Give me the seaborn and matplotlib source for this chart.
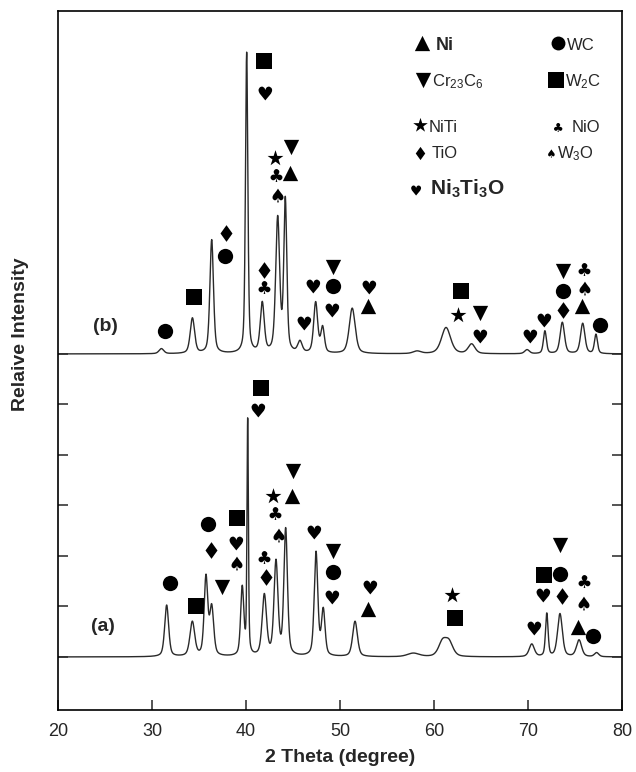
import numpy as np
import pandas as pd
import matplotlib
matplotlib.use("Agg")
import matplotlib.pyplot as plt
from matplotlib.path import Path
from matplotlib.textpath import TextPath
from matplotlib.font_manager import FontProperties
import seaborn as sns

# ── peak tables (2theta, height in tick units, fwhm) ──
PEAK_POS_A = [31.56, 34.29, 35.74, 36.35, 39.60, 40.18, 41.95, 43.19, 44.22,
              47.45, 48.22, 51.60, 57.80, 60.90, 61.60, 70.40, 72.00, 73.40,
              75.43, 77.30]
PEAK_H_A = [1.02, 0.68, 1.55, 0.95, 1.35, 4.65, 1.20, 1.85, 2.50,
            2.05, 0.90, 0.70, 0.07, 0.28, 0.27, 0.25, 0.85, 0.85,
            0.33, 0.08]
PEAK_W_A = [0.50, 0.60, 0.45, 0.50, 0.40, 0.18, 0.55, 0.50, 0.45,
            0.45, 0.45, 0.60, 1.50, 1.00, 1.00, 0.65, 0.32, 0.60,
            0.65, 0.55]

PEAK_POS_B = [31.00, 34.30, 36.35, 40.07, 41.73, 43.37, 44.18, 45.74, 47.41,
              48.15, 51.30, 58.20, 61.28, 64.00, 69.90, 71.80, 73.65, 75.82,
              77.23]
PEAK_H_B = [0.10, 0.70, 2.25, 5.95, 0.98, 2.65, 3.00, 0.22, 1.00,
            0.50, 0.90, 0.05, 0.52, 0.19, 0.08, 0.45, 0.62, 0.60,
            0.38]
PEAK_W_B = [0.60, 0.55, 0.45, 0.30, 0.50, 0.50, 0.38, 0.55, 0.50,
            0.45, 0.75, 1.00, 1.15, 0.85, 0.60, 0.38, 0.55, 0.55,
            0.38]
OFFSET_B = 6.0

# ── phase markers placed above the peaks (2theta, height) ──
MARK_PHASE = (
    # pattern (a)
    ["WC", "W2C", "WC", "TiO", "Cr23C6", "W2C", "Ni3Ti3O", "W3O", "W2C",
     "Ni3Ti3O", "NiTi", "NiO", "W3O", "NiO", "TiO", "Cr23C6", "Ni",
     "Ni3Ti3O", "Cr23C6", "WC", "Ni3Ti3O", "Ni3Ti3O", "Ni", "NiTi", "W2C",
     "Ni3Ti3O", "Ni3Ti3O", "W2C", "WC", "Cr23C6", "TiO", "NiO", "W3O", "Ni",
     "WC"]
    # pattern (b)
    + ["WC", "W2C", "TiO", "WC", "W2C", "Ni3Ti3O", "NiTi", "NiO", "W3O",
       "Cr23C6", "Ni", "TiO", "NiO", "Ni3Ti3O", "Ni3Ti3O", "Cr23C6", "WC",
       "Ni3Ti3O", "Ni3Ti3O", "Ni", "W2C", "NiTi", "Cr23C6", "Ni3Ti3O",
       "Ni3Ti3O", "Ni3Ti3O", "Cr23C6", "WC", "TiO", "NiO", "W3O", "Ni", "WC"]
)
MARK_X = (
    [31.90, 34.65, 36.00, 36.28, 37.48, 39.08, 38.83, 38.83, 41.60,
     41.20, 42.90, 42.98, 43.26, 41.84, 42.13, 44.97, 44.86,
     47.16, 49.29, 49.29, 49.04, 53.12, 52.95, 61.95, 62.23,
     70.57, 71.46, 71.74, 73.40, 73.40, 73.58, 75.88, 75.78, 75.29,
     76.95]
    + [31.38, 34.50, 37.84, 37.77, 41.95, 41.90, 43.09, 43.09, 43.16,
       44.79, 44.68, 41.95, 41.84, 46.10, 47.00, 49.22, 49.22,
       49.04, 53.00, 52.95, 62.87, 62.59, 64.89, 64.79,
       70.10, 71.63, 73.69, 73.76, 73.69, 75.82, 75.82, 75.78, 77.66]
)
MARK_Y = (
    [1.46, 1.01, 2.63, 2.12, 1.38, 2.76, 2.25, 1.86, 5.32,
     4.89, 3.19, 2.86, 2.42, 1.97, 1.59, 3.68, 3.19,
     2.48, 2.09, 1.68, 1.19, 1.38, 0.95, 1.23, 0.77,
     0.57, 1.23, 1.62, 1.64, 2.22, 1.21, 1.50, 1.06, 0.60,
     0.42]
    + [6.46, 7.12, 8.39, 7.94, 11.80, 11.17, 9.87, 9.54, 9.15,
       10.10, 9.58, 7.66, 7.32, 6.61, 7.35, 7.73, 7.35,
       6.87, 7.32, 6.94, 7.25, 6.77, 6.82, 6.36,
       6.36, 6.67, 7.65, 7.25, 6.86, 7.68, 7.30, 6.94, 6.57]
)

# ── legend key ──
KEY_PHASE = ["Ni", "WC", "Cr23C6", "W2C", "NiTi", "NiO", "TiO", "W3O", "Ni3Ti3O"]
KEY_LABEL = ["Ni", "WC", "Cr$_{23}$C$_6$", "W$_2$C", "NiTi", "NiO", "TiO",
             "W$_3$O", "Ni$_3$Ti$_3$O"]


def suit_marker(ch):
    tp = TextPath((0, 0), ch, size=10, prop=FontProperties(family="DejaVu Sans"))
    v = tp.vertices.copy()
    lo, hi = v.min(axis=0), v.max(axis=0)
    v = v - (lo + hi) / 2
    return Path(v, tp.codes)


DIAMOND = Path([(0, 1), (0.72, 0), (0, -1), (-0.72, 0), (0, 1)],
               [Path.MOVETO, Path.LINETO, Path.LINETO, Path.LINETO, Path.CLOSEPOLY])

MARKERS = {
    "Ni": "^", "WC": "o", "Cr23C6": "v", "W2C": "s", "NiTi": "*",
    "NiO": suit_marker("\u2663"), "TiO": DIAMOND, "W3O": suit_marker("\u2660"),
    "Ni3Ti3O": suit_marker("\u2665"),
}
SIZES = {
    "Ni": 11, "WC": 11, "Cr23C6": 11, "W2C": 11, "NiTi": 12,
    "NiO": 10, "TiO": 12, "W3O": 10, "Ni3Ti3O": 11,
}
KEY_SIZES = {
    "Ni": 11, "WC": 10, "Cr23C6": 11, "W2C": 11, "NiTi": 11,
    "NiO": 7, "TiO": 9.5, "W3O": 6, "Ni3Ti3O": 8,
}


def pattern(x, pos, h, w, eta=0.45):
    y = np.zeros_like(x)
    for p, a, f in zip(pos, h, w):
        d = (x - p) / f
        y += a * (eta / (1 + 4 * d ** 2) + (1 - eta) * np.exp(-4 * np.log(2) * d ** 2))
    return y


sns.set_style("ticks")
plt.rcParams["font.family"] = ["Liberation Sans", "DejaVu Sans"]
plt.rcParams["mathtext.default"] = "regular"

two_theta = np.linspace(20, 80, 4001)
df = pd.concat([
    pd.DataFrame({"two_theta": two_theta,
                  "intensity": pattern(two_theta, PEAK_POS_A, PEAK_H_A, PEAK_W_A),
                  "sample": "a"}),
    pd.DataFrame({"two_theta": two_theta,
                  "intensity": OFFSET_B + pattern(two_theta, PEAK_POS_B, PEAK_H_B, PEAK_W_B),
                  "sample": "b"}),
])

fig = plt.figure(figsize=(6.36, 7.72), dpi=100)
ax = fig.add_axes([58 / 636, 1 - 710 / 772, 564 / 636, 699 / 772])

sns.lineplot(data=df, x="two_theta", y="intensity", units="sample", estimator=None,
             color="#2a2a2a", linewidth=1.0, legend=False, ax=ax, sort=False)

marks = pd.DataFrame({"phase": MARK_PHASE, "x": MARK_X, "y": MARK_Y})
for phase, grp in marks.groupby("phase"):
    ax.scatter(grp["x"], grp["y"], marker=MARKERS[phase], s=SIZES[phase] ** 2,
               color="black", linewidths=0, zorder=3)

# key in the upper right corner
key_pos = [(58.69, 12.15), (73.22, 12.15), (58.86, 11.43), (72.95, 11.43),
           (58.51, 10.53), (73.05, 10.50), (58.51, 9.97), (72.34, 9.97),
           (57.98, 9.25)]
key_text = [(60.2, 12.02), (74.1, 12.02), (59.75, 11.29), (73.95, 11.29),
            (59.4, 10.40), (74.65, 10.40), (59.75, 9.87), (73.05, 9.87),
            (59.57, 9.15)]
key_font = [(13, "bold"), (12, "normal"), (12, "normal"), (12, "normal"),
            (12, "normal"), (12, "normal"), (12, "normal"), (12, "normal"),
            (15, "bold")]
for phase, label, (mx, my), (tx, ty), (fs, fw) in zip(KEY_PHASE, KEY_LABEL, key_pos,
                                                        key_text, key_font):
    ax.scatter([mx], [my], marker=MARKERS[phase], s=KEY_SIZES[phase] ** 2,
               color="black", linewidths=0, zorder=3)
    ax.text(tx, ty, label, fontsize=fs, fontweight=fw, ha="left", va="baseline")

ax.text(25.0, 6.55, "(b)", fontsize=14, fontweight="bold", ha="center", va="center")
ax.text(24.8, 0.60, "(a)", fontsize=14, fontweight="bold", ha="center", va="center")

ax.set_xlim(20, 80)
ax.set_ylim(-1.05, 12.79)
ax.set_xticks(np.arange(20, 81, 10))
ax.set_yticks(np.arange(0, 7, 1))
ax.set_yticklabels([])
ax.tick_params(axis="x", direction="in", length=7, width=1.1, labelsize=13, pad=9,
               top=False)
ax.tick_params(axis="y", direction="in", length=7, width=1.1, left=True, right=True)
for sp in ax.spines.values():
    sp.set_visible(True)
    sp.set_linewidth(1.2)
    sp.set_color("black")

ax.set_xlabel("2 Theta (degree)", fontsize=14, fontweight="bold")
ax.set_ylabel("Relaive Intensity", fontsize=14, fontweight="bold")
ax.xaxis.set_label_coords(0.5, -0.068)
ax.xaxis.label.set_va("center")
ax.yaxis.set_label_coords(-0.066, 0.538)
ax.yaxis.label.set_va("center")

fig.savefig("out.png", dpi=100)
